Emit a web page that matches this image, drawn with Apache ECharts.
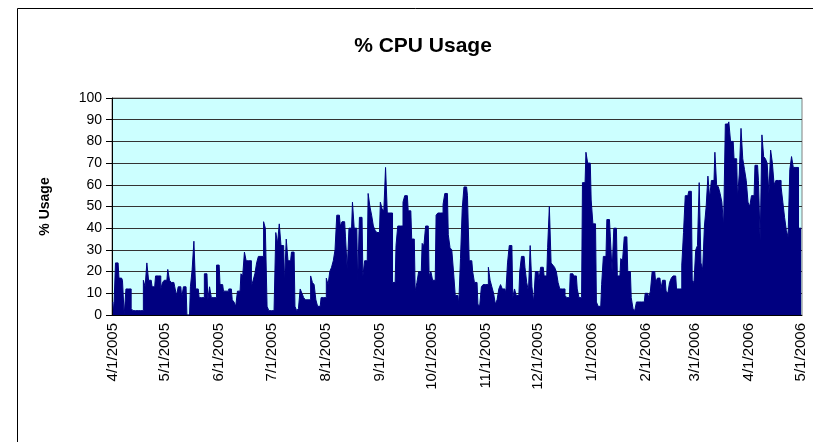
<!DOCTYPE html>
<html>
<head>
<meta charset="utf-8">
<script src="https://cdn.jsdelivr.net/npm/echarts@6/dist/echarts.min.js"></script>
<style>
  html, body { margin: 0; padding: 0; background: #fff; }
  #cpu { width: 813px; height: 442px; }
</style>
</head>
<body>
<div id="cpu"></div>
<script>
// daily % CPU usage, one array per month
const apr05 = [6,1,24,24,17,17,16,0,12,12,12,3,2,2,2,2,2,2,16,13,24,16,16,13,13,18,18,18,12,15];
const may05 = [16,16,21,16,15,15,13,9,13,13,8,13,13,0,0,13,21,34,12,12,8,8,8,19,19,7,13,8,8,8,23];
const jun05 = [23,14,14,11,11,11,12,12,7,6,4,11,11,19,18,29,25,25,25,13,16,19,24,27,27,27,43,40,4,2];
const jul05 = [2,2,2,38,33,42,32,32,15,35,25,25,29,29,4,2,3,12,10,8,7,7,7,18,15,14,7,4,4,8,8];
const aug05 = [8,17,14,20,22,25,30,46,46,41,43,43,36,21,40,40,52,40,40,15,45,45,18,25,25,56,50,46,41,39,38];
const sep05 = [38,52,49,48,68,47,47,47,15,15,32,41,41,41,52,55,55,48,48,35,35,11,15,20,20,33,32,41,41,18];
const oct05 = [20,16,16,46,47,47,47,51,56,56,37,31,30,20,9,9,5,26,49,59,59,55,25,25,20,15,15,5,4,13,14];
const nov05 = [14,14,22,16,13,10,5,7,12,14,12,12,10,24,32,32,8,12,9,9,20,27,27,22,15,11,32,13,6,20];
const dec05 = [20,16,22,22,18,18,31,50,24,23,22,20,15,12,12,12,9,8,8,19,19,18,18,12,8,8,61,61,75,70,70];
const jan06 = [53,42,42,6,4,4,14,27,27,44,44,36,20,40,40,18,18,26,25,36,36,20,20,8,3,2,6,6,6,6,6];
const feb06 = [10,10,8,11,20,20,15,17,17,12,16,16,11,10,15,17,18,18,12,12,12,23,38,55,55,57,57,16];
const mar06 = [15,30,32,61,24,21,41,50,64,54,62,62,75,60,59,56,52,41,88,88,89,80,80,72,72,54,65,86,72,67,62];
const apr06 = [52,50,55,55,69,69,62,34,83,73,72,70,56,76,70,60,62,62,62,59,52,45,39,36,67,73,68,68,68,40];
const may06 = [40];

const usage = [].concat(apr05, may05, jun05, jul05, aug05, sep05, oct05,
                        nov05, dec05, jan06, feb06, mar06, apr06, may06);

// one category per day, 4/1/2005 .. 5/1/2006
const days = [];
for (let t = Date.UTC(2005, 3, 1); t <= Date.UTC(2006, 4, 1); t += 86400000) {
    const d = new Date(t);
    days.push((d.getUTCMonth() + 1) + '/' + d.getUTCDate() + '/' + d.getUTCFullYear());
}

const yTicks = [0, 10, 20, 30, 40, 50, 60, 70, 80, 90, 100];

function firstOfMonth(index, value) {
    return value.split('/')[1] === '1';
}

const font = 'Liberation Sans, Arial, sans-serif';

let myChart = echarts.init(document.getElementById('cpu'));

option = {
    animation: false,
    backgroundColor: '#ffffff',
    graphic: [
        {
            type: 'rect',
            shape: { x: 17.5, y: 8.5, width: 900, height: 500 },
            style: { fill: 'none', stroke: '#000000', lineWidth: 1 },
            silent: true
        },
        {
            type: 'text',
            x: 423,
            y: 46,
            style: {
                text: '% CPU Usage',
                fill: '#000000',
                font: 'bold 21px ' + font,
                textAlign: 'center',
                textVerticalAlign: 'middle',
                align: 'center',
                verticalAlign: 'middle'
            }
        }
    ],
    grid: {
        left: 112,
        top: 98,
        width: 690,
        height: 217,
        show: true,
        backgroundColor: '#CCFFFF',
        borderColor: '#808080',
        borderWidth: 1
    },
    xAxis: {
        type: 'category',
        data: days,
        boundaryGap: true,
        axisLine: { lineStyle: { color: '#000000', width: 1 } },
        axisTick: {
            interval: firstOfMonth,
            length: 5,
            lineStyle: { color: '#000000' }
        },
        axisLabel: {
            interval: firstOfMonth,
            rotate: 90,
            margin: 8,
            color: '#000000',
            fontSize: 15,
            fontFamily: font
        },
        splitLine: { show: false }
    },
    yAxis: {
        type: 'value',
        min: yTicks[0],
        max: yTicks[yTicks.length - 1],
        interval: 10,
        name: '% Usage',
        nameLocation: 'middle',
        nameRotate: 90,
        nameGap: 60,
        nameTextStyle: {
            color: '#000000',
            fontSize: 14,
            fontWeight: 'bold',
            fontFamily: font
        },
        axisLine: { show: true, lineStyle: { color: '#000000', width: 1 } },
        axisTick: { show: true, length: 6, lineStyle: { color: '#000000' } },
        axisLabel: {
            margin: 10,
            color: '#000000',
            fontSize: 14,
            fontFamily: font
        },
        splitLine: { show: true, lineStyle: { color: '#333333', width: 1 } }
    },
    series: [
        {
            // daily columns with no gap, drawn as a stepped filled area
            name: '% CPU Usage',
            type: 'line',
            data: usage,
            step: 'middle',
            symbol: 'none',
            lineStyle: { color: '#000080', width: 1 },
            areaStyle: { color: '#000080', opacity: 1 }
        }
    ]
};

myChart.setOption(option);
</script>
</body>
</html>
